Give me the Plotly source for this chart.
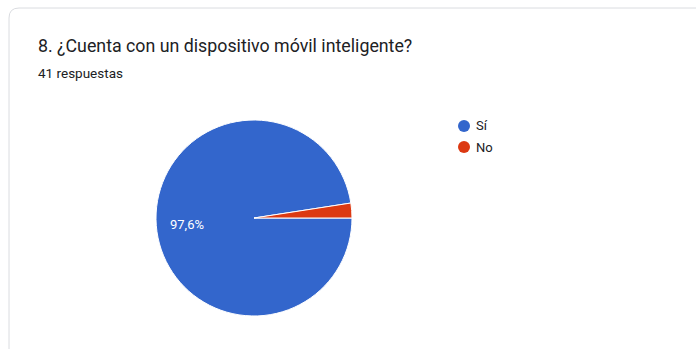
import plotly.graph_objects as go

W, H = 696, 349

title_text = "8. ¿Cuenta con un dispositivo móvil inteligente?"
subtitle_text = "41 respuestas"
categories = ["Sí", "No"]
counts = [40, 1]
slice_labels = ["97,6%", ""]
colors = ["#3366cc", "#dc3912"]

FONT = "Roboto, Arial, sans-serif"


def px(x):
    return x / W


def py(y):
    return 1 - y / H


fig = go.Figure()

fig.add_trace(go.Pie(
    labels=categories,
    values=counts,
    textinfo="none",
    marker=dict(colors=colors, line=dict(color="white", width=1)),
    sort=False,
    direction="clockwise",
    rotation=90,
    showlegend=False,
    hoverinfo="label+percent",
    domain=dict(x=[px(156), px(352)], y=[py(317), py(119)]),
))

annotations = [
    dict(text=title_text, x=px(36), y=py(46), xref="paper", yref="paper",
         xanchor="left", yanchor="middle", showarrow=False,
         font=dict(family=FONT, size=17.8, color="#202124")),
    dict(text=subtitle_text, x=px(36), y=py(73), xref="paper", yref="paper",
         xanchor="left", yanchor="middle", showarrow=False,
         font=dict(family=FONT, size=13.5, color="#202124")),
    # slice percentage label (only the large slice is labelled)
    dict(text=slice_labels[0], x=px(187), y=py(224), xref="paper", yref="paper",
         xanchor="center", yanchor="middle", showarrow=False,
         font=dict(family=FONT, size=13, color="white")),
]

shapes = [
    dict(type="path", xref="paper", yref="paper",
         path=f"M {px(9)} {py(360)} L {px(9)} {py(18)} Q {px(9)} {py(8)} {px(19)} {py(8)} L {px(710)} {py(8)}",
         line=dict(color="#dadce0", width=1)),
]

# custom legend with circular markers
for i, (cat, col) in enumerate(zip(categories, colors)):
    cy = 126 + i * 21
    shapes.append(dict(type="circle", xref="paper", yref="paper",
                       x0=px(458), x1=px(470), y0=py(cy + 6), y1=py(cy - 6),
                       fillcolor=col, line=dict(color=col, width=0)))
    annotations.append(dict(text=cat, x=px(474), y=py(cy), xref="paper", yref="paper",
                            xanchor="left", yanchor="middle", showarrow=False,
                            font=dict(family=FONT, size=13, color="#202124")))

fig.update_layout(
    width=W, height=H,
    margin=dict(l=0, r=0, t=0, b=0),
    paper_bgcolor="white",
    plot_bgcolor="white",
    showlegend=False,
    font=dict(family=FONT, color="#202124"),
    annotations=annotations,
    shapes=shapes,
)

fig.write_html("out.html")
